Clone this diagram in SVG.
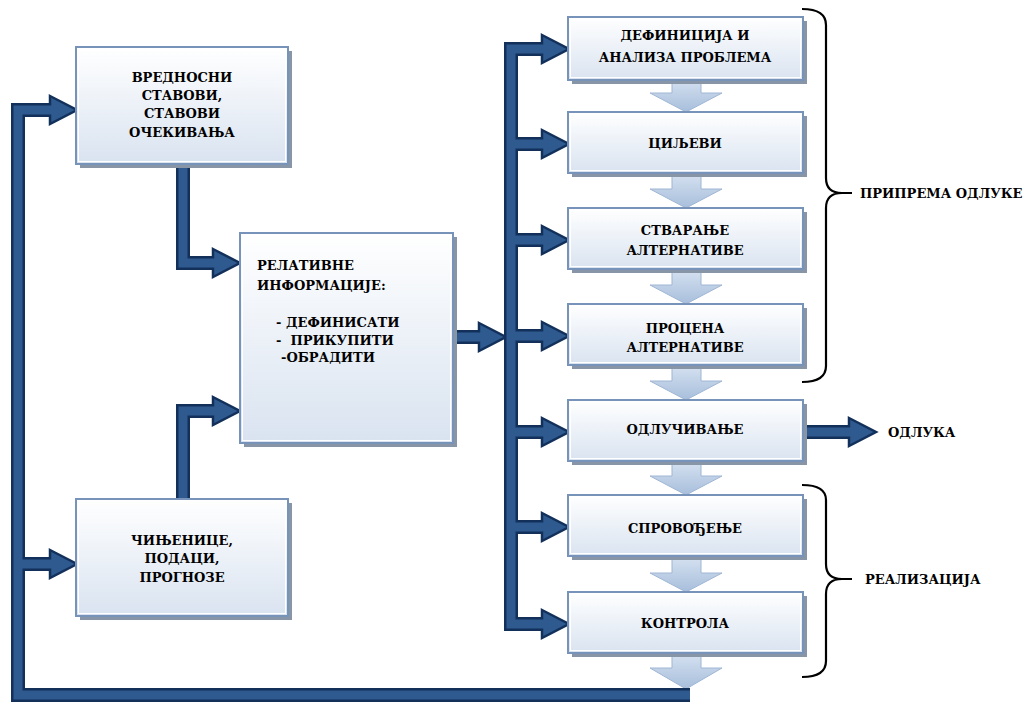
<svg xmlns="http://www.w3.org/2000/svg" width="1030" height="702" viewBox="0 0 1030 702">
<defs>
<linearGradient id="boxGrad" x1="0" y1="0" x2="0" y2="1">
<stop offset="0" stop-color="#ffffff"/>
<stop offset="1" stop-color="#d9e3f0"/>
</linearGradient>
<linearGradient id="downGrad" x1="0" y1="0" x2="0" y2="1">
<stop offset="0" stop-color="#d6e2f1"/>
<stop offset="1" stop-color="#a7bedb"/>
</linearGradient>
<style>
.shadow{fill:#8895a7;}
.box{fill:url(#boxGrad);stroke:#7893ba;stroke-width:2;}
.hl{fill:none;stroke:#ffffff;stroke-width:1;}
.down{fill:url(#downGrad);stroke:#9fb6d4;stroke-width:1;}
.outer{fill:none;stroke:#12305a;stroke-width:14;stroke-linejoin:miter;stroke-linecap:butt;}
.inner{fill:none;stroke:#2e5a90;stroke-width:9;stroke-linejoin:miter;stroke-linecap:butt;}
.head{fill:#2e5a90;stroke:#12305a;stroke-width:2.5;stroke-linejoin:miter;}
.brace{fill:none;stroke:#000000;stroke-width:2.2;}
.t text{font-family:'DejaVu Serif',serif;font-weight:bold;font-size:13px;fill:#000000;}
.c{text-anchor:middle;}
.pre{white-space:pre;}
</style>
</defs>

<g id="down-arrows">
<polygon class="down" points="672,78 701,78 701,93 722,93 686,112 650,93 672,93"/>
<polygon class="down" points="672,173 701,173 701,189 722,189 686,208 650,189 672,189"/>
<polygon class="down" points="672,269 701,269 701,285 722,285 686,304 650,285 672,285"/>
<polygon class="down" points="672,365 701,365 701,381 722,381 686,400 650,381 672,381"/>
<polygon class="down" points="672,461 701,461 701,476 722,476 686,495 650,476 672,476"/>
<polygon class="down" points="672,556 701,556 701,573 722,573 686,592 650,573 672,573"/>
<polygon class="down" points="672,653 701,653 701,668 722,668 686,689 650,668 672,668"/>
</g>

<g id="connectors">
<path class="outer" d="M690 695 H18 V110 H52 M18 564 H52"/>
<path class="outer" d="M183 160 V263 H216 M183 505 V411 H216"/>
<path class="outer" d="M453 337 H482"/>
<path class="outer" d="M545 49 H511 V624 H545 M511 144 H545 M511 240 H545 M511 336 H545 M511 432 H545 M511 527 H545"/>
<path class="outer" d="M803 432 H852"/>
<polygon class="head" points="50,96 77,110 50,124"/>
<polygon class="head" points="50,550 77,564 50,578"/>
<polygon class="head" points="213,249 240,263 213,277"/>
<polygon class="head" points="213,397 240,411 213,425"/>
<polygon class="head" points="479,323 506,337 479,351"/>
<polygon class="head" points="542,35 569,49 542,63"/>
<polygon class="head" points="542,130 569,144 542,158"/>
<polygon class="head" points="542,226 569,240 542,254"/>
<polygon class="head" points="542,322 569,336 542,350"/>
<polygon class="head" points="542,418 569,432 542,446"/>
<polygon class="head" points="542,513 569,527 542,541"/>
<polygon class="head" points="542,610 569,624 542,638"/>
<polygon class="head" points="849,418 876,432 849,446"/>
<path class="inner" d="M690 695 H18 V110 H54 M18 564 H54"/>
<path class="inner" d="M183 160 V263 H218 M183 505 V411 H218"/>
<path class="inner" d="M453 337 H484"/>
<path class="inner" d="M547 49 H511 V624 H547 M511 144 H547 M511 240 H547 M511 336 H547 M511 432 H547 M511 527 H547"/>
<path class="inner" d="M803 432 H854"/>
</g>

<g id="n-vrednosni" class="t">
<rect class="shadow" x="80" y="51" width="212" height="117"/>
<rect class="box" x="76" y="47" width="212" height="117"/>
<rect class="hl" x="78.5" y="49.5" width="207" height="112"/>
<text class="c" x="182" y="82">ВРЕДНОСНИ</text>
<text class="c" x="182" y="100">СТАВОВИ,</text>
<text class="c" x="182" y="118">СТАВОВИ</text>
<text class="c" x="182" y="137">ОЧЕКИВАЊА</text>
</g>

<g id="n-relevantne" class="t">
<rect class="shadow" x="244" y="237" width="213" height="210"/>
<rect class="box" x="240" y="233" width="213" height="210"/>
<rect class="hl" x="242.5" y="235.5" width="208" height="205"/>
<text x="257" y="270">РЕЛАТИВНЕ</text>
<text x="257" y="290">ИНФОРМАЦИЈЕ:</text>
<text class="pre" x="276" y="327">- ДЕФИНИСАТИ</text>
<text class="pre" x="276" y="345">-  ПРИКУПИТИ</text>
<text class="pre" x="281" y="362">-ОБРАДИТИ</text>
</g>

<g id="n-cinjenice" class="t">
<rect class="shadow" x="80" y="503" width="212" height="117"/>
<rect class="box" x="76" y="499" width="212" height="117"/>
<rect class="hl" x="78.5" y="501.5" width="207" height="112"/>
<text class="c" x="182" y="545">ЧИЊЕНИЦЕ,</text>
<text class="c" x="182" y="563">ПОДАЦИ,</text>
<text class="c" x="182" y="582">ПРОГНОЗЕ</text>
</g>

<g id="n-definicija" class="t">
<rect class="shadow" x="572" y="21" width="235" height="63"/>
<rect class="box" x="568" y="17" width="235" height="63"/>
<rect class="hl" x="570.5" y="19.5" width="230" height="58"/>
<text class="c" x="685" y="40">ДЕФИНИЦИЈА И</text>
<text class="c" x="685" y="62">АНАЛИЗА ПРОБЛЕМА</text>
</g>

<g id="n-ciljevi" class="t">
<rect class="shadow" x="572" y="116" width="235" height="61"/>
<rect class="box" x="568" y="112" width="235" height="61"/>
<rect class="hl" x="570.5" y="114.5" width="230" height="56"/>
<text class="c" x="685" y="148">ЦИЉЕВИ</text>
</g>

<g id="n-stvaranje" class="t">
<rect class="shadow" x="572" y="212" width="235" height="61"/>
<rect class="box" x="568" y="208" width="235" height="61"/>
<rect class="hl" x="570.5" y="210.5" width="230" height="56"/>
<text class="c" x="685" y="235">СТВАРАЊЕ</text>
<text class="c" x="685" y="255">АЛТЕРНАТИВЕ</text>
</g>

<g id="n-procena" class="t">
<rect class="shadow" x="572" y="308" width="235" height="61"/>
<rect class="box" x="568" y="304" width="235" height="61"/>
<rect class="hl" x="570.5" y="306.5" width="230" height="56"/>
<text class="c" x="685" y="333">ПРОЦЕНА</text>
<text class="c" x="685" y="352">АЛТЕРНАТИВЕ</text>
</g>

<g id="n-odlucivanje" class="t">
<rect class="shadow" x="572" y="404" width="235" height="61"/>
<rect class="box" x="568" y="400" width="235" height="61"/>
<rect class="hl" x="570.5" y="402.5" width="230" height="56"/>
<text class="c" x="685" y="434">ОДЛУЧИВАЊЕ</text>
</g>

<g id="n-sprovodjenje" class="t">
<rect class="shadow" x="572" y="499" width="235" height="61"/>
<rect class="box" x="568" y="495" width="235" height="61"/>
<rect class="hl" x="570.5" y="497.5" width="230" height="56"/>
<text class="c" x="685" y="533">СПРОВОЂЕЊЕ</text>
</g>

<g id="n-kontrola" class="t">
<rect class="shadow" x="572" y="596" width="235" height="61"/>
<rect class="box" x="568" y="592" width="235" height="61"/>
<rect class="hl" x="570.5" y="594.5" width="230" height="56"/>
<text class="c" x="685" y="628">КОНТРОЛА</text>
</g>

<g id="n-odluka" class="t">
<text x="888" y="437">ОДЛУКА</text>
</g>

<g id="brace-priprema" class="t">
<path class="brace" d="M802 9 Q826 9 826 25 V178 Q826 193 842 193 L852 193 M842 193 Q826 193 826 208 V366 Q826 382 802 382"/>
<text x="860" y="198">ПРИПРЕМА ОДЛУКЕ</text>
</g>

<g id="brace-realizacija" class="t">
<path class="brace" d="M802 485 Q826 485 826 500 V564 Q826 579 842 579 L852 579 M842 579 Q826 579 826 594 V661 Q826 677 802 677"/>
<text x="865" y="584">РЕАЛИЗАЦИЈА</text>
</g>
</svg>
